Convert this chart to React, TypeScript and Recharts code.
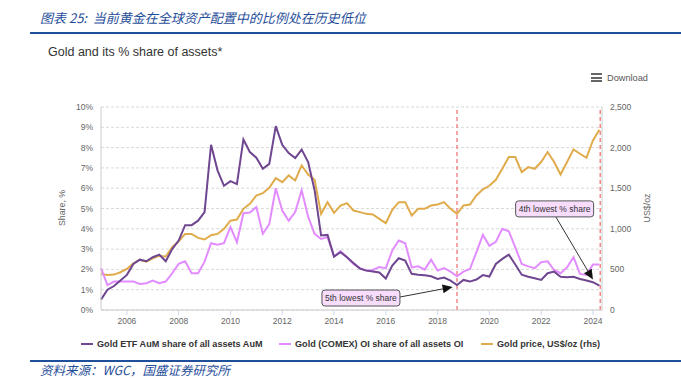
import React from "react";
import {
  CartesianGrid,
  ComposedChart,
  Line,
  ReferenceDot,
  ReferenceLine,
  XAxis,
  YAxis,
} from "recharts";

// quarterly observations, decimal year
const quarterTimes = [
  2005, 2005.25, 2005.5, 2005.75,
  2006, 2006.25, 2006.5, 2006.75,
  2007, 2007.25, 2007.5, 2007.75,
  2008, 2008.25, 2008.5, 2008.75,
  2009, 2009.25, 2009.5, 2009.75,
  2010, 2010.25, 2010.5, 2010.75,
  2011, 2011.25, 2011.5, 2011.75,
  2012, 2012.25, 2012.5, 2012.75,
  2013, 2013.25, 2013.5, 2013.75,
  2014, 2014.25, 2014.5, 2014.75,
  2015, 2015.25, 2015.5, 2015.75,
  2016, 2016.25, 2016.5, 2016.75,
  2017, 2017.25, 2017.5, 2017.75,
  2018, 2018.25, 2018.5, 2018.75,
  2019, 2019.25, 2019.5, 2019.75,
  2020, 2020.25, 2020.5, 2020.75,
  2021, 2021.25, 2021.5, 2021.75,
  2022, 2022.25, 2022.5, 2022.75,
  2023, 2023.25, 2023.5, 2023.75,
  2024, 2024.25,
];

const etfShare = [
  0.51, 1.0, 1.18, 1.45,
  1.73, 2.27, 2.48, 2.4,
  2.6, 2.73, 2.4, 3.0,
  3.42, 4.18, 4.18, 4.4,
  4.82, 8.14, 6.88, 6.12,
  6.35, 6.2, 8.4, 7.78,
  7.5, 6.96, 7.2, 9.06,
  8.14, 7.73, 7.48, 7.9,
  7.29, 5.9, 3.67, 3.7,
  2.63, 2.85, 2.6, 2.32,
  2.04, 1.94, 1.9, 1.85,
  1.55, 2.19, 2.55, 2.43,
  1.78, 1.74, 1.71, 1.66,
  1.53, 1.6, 1.45, 1.23,
  1.48, 1.4, 1.5, 1.72,
  1.65, 2.27, 2.52, 2.73,
  2.24, 1.74, 1.64, 1.56,
  1.48, 1.81, 1.89, 1.64,
  1.61, 1.64, 1.53, 1.45,
  1.37, 1.2,
];

const comexShare = [
  2.06, 1.23, 1.4, 1.41,
  1.4, 1.4, 1.28, 1.32,
  1.45, 1.32, 1.4, 1.81,
  2.27, 2.4, 1.81, 1.81,
  2.38, 3.29, 3.22, 3.29,
  4.08, 3.34, 4.77, 4.8,
  5.07, 3.75, 4.24, 6.0,
  4.9, 4.4, 4.82, 5.9,
  4.6, 3.75, 3.5, 3.59,
  2.63, 2.9, 2.6, 2.27,
  2.06, 1.95, 1.97, 2.12,
  2.06, 2.93, 3.42, 3.29,
  2.1, 2.15, 1.99, 2.48,
  1.94, 2.06, 1.89, 1.66,
  1.89, 2.02, 2.85, 3.7,
  3.16, 3.36, 4.0, 3.88,
  3.09, 2.27, 2.15, 2.06,
  2.35, 2.4, 1.97, 1.81,
  2.1, 2.6, 1.78, 1.73,
  2.24, 2.24,
];

const goldPrice = [
  444, 432, 436, 465,
  506, 576, 617, 596,
  637, 666, 658, 773,
  847, 937, 937, 888,
  868, 921, 937, 999,
  1100, 1114, 1246, 1308,
  1410, 1439, 1505, 1624,
  1575, 1657, 1595, 1780,
  1669, 1604, 1184, 1328,
  1197, 1287, 1316, 1225,
  1205, 1184, 1176, 1123,
  1069, 1234, 1328, 1328,
  1164, 1246, 1246, 1287,
  1299, 1328, 1246, 1184,
  1287, 1299, 1410, 1487,
  1530, 1604, 1739, 1883,
  1883, 1698, 1760, 1739,
  1822, 1945, 1822, 1669,
  1822, 1978, 1924, 1875,
  2089, 2220,
];

const yearTicks = [2006, 2008, 2010, 2012, 2014, 2016, 2018, 2020, 2022, 2024];
const shareTicks = [0, 1, 2, 3, 4, 5, 6, 7, 8, 9, 10];
const priceTicks = [0, 500, 1000, 1500, 2000, 2500];

const seriesNames = [
  "Gold ETF AuM share of all assets AuM",
  "Gold (COMEX) OI share of all assets OI",
  "Gold price, US$/oz (rhs)",
];

// dashed markers and callouts
const markerYears = [2018.75, 2024.28];
const calloutText = ["5th lowest % share", "4th lowest % share"];
const calloutAt = [
  { x: 2015.04, y: 0.59 },
  { x: 2022.52, y: 4.98 },
];
const arrowSegments = [
  [{ x: 2016.55, y: 0.64 }, { x: 2018.58, y: 1.13 }],
  [{ x: 2022.57, y: 4.58 }, { x: 2024.0, y: 1.5 }],
];

const PURPLE = "#6f4690";
const PINK = "#e38cff";
const GOLD = "#e0ab4b";
const BLUE = "#1f4e9a";
const SANS = "'Liberation Sans', Arial, Helvetica, sans-serif";

const data = quarterTimes.map((t, i) => ({
  t,
  etf: etfShare[i],
  comex: comexShare[i],
  price: goldPrice[i],
}));

const Arrow = (props: any) => {
  const { x1, y1, x2, y2 } = props;
  const a = Math.atan2(y2 - y1, x2 - x1);
  const len = 10;
  const w = 4.5;
  const bx = x2 - len * Math.cos(a);
  const by = y2 - len * Math.sin(a);
  const pts = [
    `${x2},${y2}`,
    `${bx + w * Math.sin(a)},${by - w * Math.cos(a)}`,
    `${bx - w * Math.sin(a)},${by + w * Math.cos(a)}`,
  ].join(" ");
  return (
    <g>
      <line x1={x1} y1={y1} x2={bx} y2={by} stroke="#333" strokeWidth={1} />
      <polygon points={pts} fill="#111" />
    </g>
  );
};

const makeCallout = (text: string) => (props: any) => {
  const { cx, cy } = props;
  const w = 78;
  const h = 16;
  return (
    <g>
      <rect
        x={cx - w / 2}
        y={cy - h / 2}
        width={w}
        height={h}
        rx={3}
        fill="#f7dcfc"
        stroke="#555"
        strokeWidth={1}
      />
      <text
        x={cx}
        y={cy + 3}
        textAnchor="middle"
        fontSize={8.5}
        fontFamily={SANS}
        fill="#333"
      >
        {text}
      </text>
    </g>
  );
};

const tickStyle = { fontSize: 8.5, fill: "#666", fontFamily: SANS };

export default function App() {
  return (
    <div
      style={{
        position: "absolute",
        left: 0,
        top: 0,
        width: 681,
        height: 378,
        background: "#fff",
        overflow: "hidden",
      }}
    >
      <div
        style={{
          position: "absolute",
          left: 40,
          top: 9,
          fontFamily: "'Noto Sans CJK SC', sans-serif",
          fontStyle: "italic",
          fontSize: 13,
          color: BLUE,
          whiteSpace: "nowrap",
          lineHeight: "18px",
        }}
      >
        图表 25:&nbsp; 当前黄金在全球资产配置中的比例处在历史低位
      </div>
      <div
        style={{
          position: "absolute",
          left: 30,
          top: 32,
          width: 651,
          height: 2,
          background: BLUE,
        }}
      />
      <div
        style={{
          position: "absolute",
          left: 48,
          top: 44,
          fontFamily: SANS,
          fontSize: 12.5,
          color: "#333",
          whiteSpace: "nowrap",
          lineHeight: "16px",
        }}
      >
        Gold and its % share of assets*
      </div>
      <div style={{ position: "absolute", left: 591, top: 73 }}>
        {[0, 1, 2].map((i) => (
          <div
            key={i}
            style={{
              position: "absolute",
              left: 0,
              top: i * 3.5,
              width: 11,
              height: 2,
              background: "#666",
            }}
          />
        ))}
      </div>
      <div
        style={{
          position: "absolute",
          left: 607,
          top: 72,
          fontFamily: SANS,
          fontSize: 9.2,
          color: "#555",
          lineHeight: "12px",
        }}
      >
        Download
      </div>

      <ComposedChart
        width={681}
        height={378}
        data={data}
        margin={{ top: 107, right: 0, bottom: 38, left: 0 }}
        style={{ position: "absolute", left: 0, top: 0 }}
      >
        <CartesianGrid
          yAxisId="share"
          vertical={false}
          stroke="#d9d9d9"
          strokeDasharray="3 2"
        />
        <XAxis
          dataKey="t"
          type="number"
          domain={[2005, 2024.35]}
          ticks={yearTicks}
          tick={tickStyle}
          tickSize={5}
          tickMargin={3}
          tickLine={{ stroke: "#ccd6eb" }}
          axisLine={{ stroke: "#ccc" }}
          height={30}
          interval={0}
        />
        <YAxis
          yAxisId="share"
          domain={[0, 10]}
          ticks={shareTicks}
          tickFormatter={(v) => `${v}%`}
          tick={tickStyle}
          tickLine={false}
          axisLine={{ stroke: "#ccc" }}
          width={101}
          interval={0}
        />
        <YAxis
          yAxisId="price"
          orientation="right"
          domain={[0, 2500]}
          ticks={priceTicks}
          tickFormatter={(v) => Number(v).toLocaleString("en-US")}
          tick={{ ...tickStyle, textAnchor: "start" }}
          tickLine={false}
          axisLine={{ stroke: "#ccc" }}
          width={79}
          interval={0}
        />
        {markerYears.map((x) => (
          <ReferenceLine
            key={x}
            x={x}
            yAxisId="share"
            stroke="#ef6b6b"
            strokeWidth={1.2}
            strokeDasharray="4 3"
          />
        ))}
        <Line
          yAxisId="price"
          dataKey="price"
          stroke={GOLD}
          strokeWidth={2}
          dot={false}
          isAnimationActive={false}
          name={seriesNames[2]}
        />
        <Line
          yAxisId="share"
          dataKey="comex"
          stroke={PINK}
          strokeWidth={2}
          dot={false}
          isAnimationActive={false}
          name={seriesNames[1]}
        />
        <Line
          yAxisId="share"
          dataKey="etf"
          stroke={PURPLE}
          strokeWidth={2}
          dot={false}
          isAnimationActive={false}
          name={seriesNames[0]}
        />
        {arrowSegments.map((seg, i) => (
          <ReferenceLine
            key={`arrow-${i}`}
            yAxisId="share"
            segment={seg}
            shape={Arrow}
          />
        ))}
        {calloutAt.map((p, i) => (
          <ReferenceDot
            key={`callout-${i}`}
            yAxisId="share"
            x={p.x}
            y={p.y}
            r={1}
            shape={makeCallout(calloutText[i])}
          />
        ))}
      </ComposedChart>

      {[
        { text: "Share, %", left: 62 },
        { text: "US$/oz", left: 647 },
      ].map((t) => (
        <div
          key={t.text}
          style={{ position: "absolute", left: t.left, top: 208, width: 0, height: 0 }}
        >
          <div
            style={{
              position: "absolute",
              left: 0,
              top: 0,
              transform: "translate(-50%, -50%) rotate(-90deg)",
              fontFamily: SANS,
              fontSize: 8.8,
              color: "#666",
              whiteSpace: "nowrap",
              lineHeight: "10px",
            }}
          >
            {t.text}
          </div>
        </div>
      ))}

      {[
        { left: 81, color: PURPLE },
        { left: 279, color: PINK },
        { left: 481, color: GOLD },
      ].map((item, i) => (
        <div
          key={i}
          style={{
            position: "absolute",
            left: item.left,
            top: 337,
            display: "flex",
            alignItems: "center",
            whiteSpace: "nowrap",
            fontFamily: SANS,
            fontWeight: "bold",
            fontSize: 9.1,
            color: "#333",
            height: 14,
          }}
        >
          <span
            style={{
              display: "inline-block",
              width: 12,
              height: 2,
              background: item.color,
              marginRight: 4,
            }}
          />
          {seriesNames[i]}
        </div>
      ))}

      <div
        style={{
          position: "absolute",
          left: 30,
          top: 360,
          width: 651,
          height: 2,
          background: BLUE,
        }}
      />
      <div
        style={{
          position: "absolute",
          left: 40,
          top: 362,
          fontFamily: "'Noto Sans CJK SC', sans-serif",
          fontStyle: "italic",
          fontSize: 12.5,
          color: BLUE,
          whiteSpace: "nowrap",
          lineHeight: "15px",
        }}
      >
        资料来源：WGC，国盛证券研究所
      </div>
    </div>
  );
}
